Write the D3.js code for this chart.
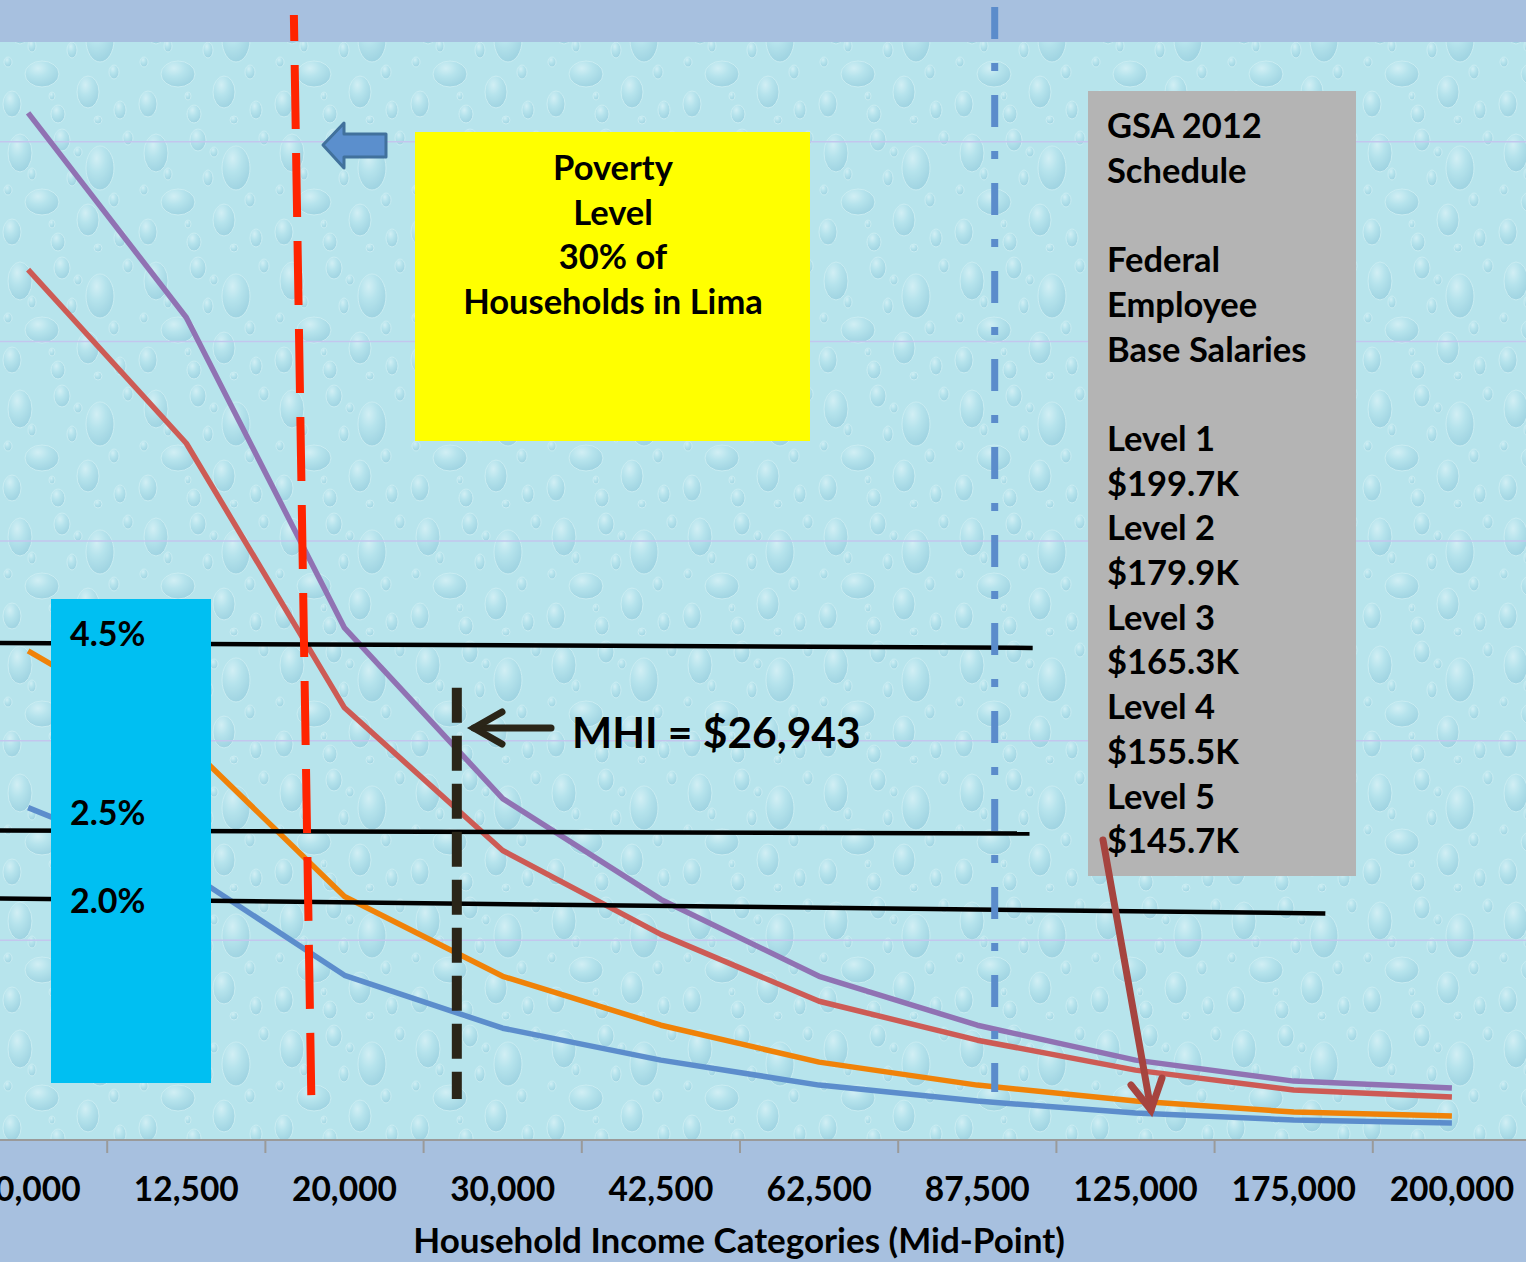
<!DOCTYPE html>
<html>
<head>
<meta charset="utf-8">
<script src="https://cdn.jsdelivr.net/npm/d3@7"></script>
<style>
    body { margin: 0; background: #a7c0df; }
    svg text { font-family: Lato, "Open Sans", sans-serif; font-weight: bold; fill: #000; }
</style>
</head>
<body>
<svg id="chart" width="1526" height="1262"></svg>
<script>
// household income mid-points (first label is cut off by the slide edge)
var categories = ["10,000", "12,500", "20,000", "30,000", "42,500", "62,500", "87,500", "125,000", "175,000", "200,000"];

// cost as % of household income
var purpleSeries = [10.29, 8.24, 5.13, 3.42, 2.41, 1.64, 1.15, 0.80, 0.59, 0.52];
var redSeries    = [8.72, 6.98, 4.33, 2.90, 2.06, 1.39, 1.00, 0.70, 0.50, 0.43];
var orangeSeries = [4.90, 3.98, 2.44, 1.64, 1.15, 0.78, 0.55, 0.39, 0.28, 0.24];
var blueSeries   = [3.33, 2.69, 1.65, 1.12, 0.80, 0.55, 0.39, 0.27, 0.20, 0.17];
var gridValues = [2, 4, 6, 8, 10];

// hand drawn reference lines, [category index, value]
var affordLabels = ["4.5%", "2.5%", "2.0%"];
var affordStart = [[-0.18, 4.98], [-0.18, 3.10], [-0.18, 2.42]];
var affordEnd   = [[6.35, 4.93], [6.33, 3.07], [8.20, 2.27]];
var povertyLine = [[1.68, 11.27], [1.79, 0.45]];
var mhiLine = [[2.71, 4.53], [2.71, 0.41]];
var gsaLine = [[6.11, 11.35], [6.11, 0.48]];

var povertyText = ["Poverty", "Level", "30% of", "Households in Lima"];
var mhiText = "MHI = $26,943";
var gsaText = ["GSA 2012", "Schedule", "", "Federal", "Employee", "Base Salaries", "",
    "Level 1", "$199.7K", "Level 2", "$179.9K", "Level 3", "$165.3K",
    "Level 4", "$155.5K", "Level 5", "$145.7K"];
var axisTitle = "Household Income Categories (Mid-Point)";

var svg = d3.select("#chart");
var W = +svg.attr("width"), H = +svg.attr("height");
var plotTop = 42, plotBottom = 1140;

var x = d3.scaleBand().domain(categories).range([-51, 1531]).padding(0);
var bw = x.bandwidth();
var xi = d3.scaleLinear()
    .domain([0, categories.length - 1])
    .range([x(categories[0]) + bw / 2, x(categories[categories.length - 1]) + bw / 2]);
var y = d3.scaleLinear().domain([0, 11]).range([plotBottom, plotTop]);

// water drop texture (decoration only)
var drops = [[20, 25, 12, 19], [62, 12, 8, 11], [100, 40, 14, 22], [42, 74, 17, 13], [88, 92, 11, 16],
    [12, 104, 9, 13], [58, 114, 7, 9], [120, 110, 6, 9], [72, 50, 5, 8], [32, 46, 4, 6],
    [114, 72, 5, 7], [8, 62, 4, 5], [78, 24, 4, 5], [128, 10, 5, 7], [52, 96, 3, 4], [98, 120, 4, 4]];
var defs = svg.append("defs");
var grad = defs.append("radialGradient").attr("id", "drop").attr("cx", "38%").attr("cy", "28%").attr("r", "80%");
grad.append("stop").attr("offset", "0%").attr("stop-color", "#f2fcfd");
grad.append("stop").attr("offset", "40%").attr("stop-color", "#b4e2eb");
grad.append("stop").attr("offset", "100%").attr("stop-color", "#7ab9cf");
var pat = defs.append("pattern").attr("id", "water")
    .attr("patternUnits", "userSpaceOnUse").attr("width", 136).attr("height", 128);
pat.append("rect").attr("width", 136).attr("height", 128).attr("fill", "#b7e4ec");
pat.selectAll("ellipse").data(drops).enter().append("ellipse")
    .attr("cx", d => d[0]).attr("cy", d => d[1]).attr("rx", d => d[2]).attr("ry", d => d[3])
    .attr("fill", "url(#drop)").attr("opacity", 0.45)
    .attr("stroke", "#dff5f8").attr("stroke-width", 1);

svg.append("rect").attr("width", W).attr("height", H).attr("fill", "#a7c0df");
svg.append("rect").attr("x", 0).attr("y", plotTop).attr("width", W).attr("height", plotBottom - plotTop)
    .attr("fill", "url(#water)");

// gridlines
svg.append("g").selectAll("line").data(gridValues).enter().append("line")
    .attr("x1", 0).attr("x2", W)
    .attr("y1", d => y(d)).attr("y2", d => y(d))
    .attr("stroke", "#c3c6ee").attr("stroke-width", 1.5);

// series
var series = [
    {values: purpleSeries, color: "#9072b3"},
    {values: redSeries, color: "#cd5b55"},
    {values: orangeSeries, color: "#f08208"},
    {values: blueSeries, color: "#5c8dcc"}
];
var line = d3.line().x((d, i) => xi(i)).y(d => y(d));
svg.append("g").selectAll("path").data(series.slice().reverse()).enter().append("path")
    .attr("d", d => line(d.values))
    .attr("fill", "none").attr("stroke", d => d.color)
    .attr("stroke-width", 5.5).attr("stroke-linejoin", "round");

// black affordability lines
var refLine = d3.line().x(d => xi(d[0])).y(d => y(d[1]));
svg.append("g").selectAll("path").data(affordLabels).enter().append("path")
    .attr("d", (d, i) => refLine([affordStart[i], affordEnd[i]]))
    .attr("stroke", "#000").attr("stroke-width", 4.5);

// vertical markers
svg.append("path").attr("d", refLine(povertyLine))
    .attr("stroke", "#ff2400").attr("stroke-width", 8)
    .attr("stroke-dasharray", "64,24").attr("stroke-dashoffset", 38);
svg.append("path").attr("d", refLine(mhiLine))
    .attr("stroke", "#2a2518").attr("stroke-width", 10)
    .attr("stroke-dasharray", "35,13");
svg.append("path").attr("d", refLine(gsaLine))
    .attr("stroke", "#5b8ccb").attr("stroke-width", 7)
    .attr("stroke-dasharray", "32,24,8,24");

// x axis
var axisG = svg.append("g").attr("transform", "translate(0," + plotBottom + ")");
axisG.append("line").attr("x1", 0).attr("x2", W).attr("stroke", "#9a9a9a").attr("stroke-width", 2);
axisG.selectAll(".tick-mark").data(categories.slice(1)).enter().append("line")
    .attr("class", "tick-mark")
    .attr("x1", d => x(d)).attr("x2", d => x(d))
    .attr("y1", 0).attr("y2", 13)
    .attr("stroke", "#9a9a9a").attr("stroke-width", 2);
axisG.selectAll(".tick-label").data(categories).enter().append("text")
    .attr("class", "tick-label")
    .attr("x", d => x(d) + bw / 2).attr("y", 61)
    .attr("text-anchor", "middle").style("font-size", "33.5px")
    .text(d => d);
svg.append("text").attr("x", 739).attr("y", 1253)
    .attr("text-anchor", "middle").style("font-size", "35px")
    .text(axisTitle);

// cyan label box
svg.append("rect").attr("x", 51).attr("y", 599).attr("width", 160).attr("height", 484).attr("fill", "#00bff2");
var labelBaselines = [646, 825, 913];
svg.selectAll(".afford-label").data(affordLabels).enter().append("text")
    .attr("class", "afford-label")
    .attr("x", 70).attr("y", (d, i) => labelBaselines[i])
    .style("font-size", "34px")
    .text(d => d);

// poverty box
svg.append("rect").attr("x", 415).attr("y", 132).attr("width", 395).attr("height", 309).attr("fill", "#ffff00");
svg.selectAll(".poverty-text").data(povertyText).enter().append("text")
    .attr("class", "poverty-text")
    .attr("x", 613).attr("y", (d, i) => 180 + i * 44.5)
    .attr("text-anchor", "middle").style("font-size", "34.5px")
    .text(d => d);

// block arrow pointing at the poverty line
svg.append("path")
    .attr("d", "M323,145 L344,123 L344,134 L386,134 L386,157 L344,157 L344,168 Z")
    .attr("fill", "#5b8fcd").attr("stroke", "#41719c").attr("stroke-width", 3)
    .attr("stroke-linejoin", "round");

// MHI arrow + label
var mhiArrow = svg.append("g").attr("stroke", "#2a2518").attr("stroke-width", 7)
    .attr("stroke-linecap", "round").attr("fill", "none");
mhiArrow.append("line").attr("x1", 551).attr("y1", 728).attr("x2", 474).attr("y2", 728);
mhiArrow.append("path").attr("d", "M502,712 L474,728 L502,744");
svg.append("text").attr("x", 572).attr("y", 748).style("font-size", "42.5px").text(mhiText);

// GSA box
svg.append("rect").attr("x", 1088).attr("y", 91).attr("width", 268).attr("height", 785).attr("fill", "#b4b4b4");
svg.selectAll(".gsa-text").data(gsaText).enter().append("text")
    .attr("class", "gsa-text")
    .attr("x", 1107).attr("y", (d, i) => 138 + i * 44.7)
    .style("font-size", "34.5px")
    .text(d => d);

// arrow from the lowest salary down to its income category
var salArrow = svg.append("g").attr("stroke", "#a6443f").attr("stroke-width", 7)
    .attr("stroke-linecap", "round").attr("fill", "none");
salArrow.append("line").attr("x1", 1103).attr("y1", 840).attr("x2", 1151).attr("y2", 1110);
salArrow.append("path").attr("d", "M1131,1085 L1151,1110 L1162,1078");
</script>
</body>
</html>
